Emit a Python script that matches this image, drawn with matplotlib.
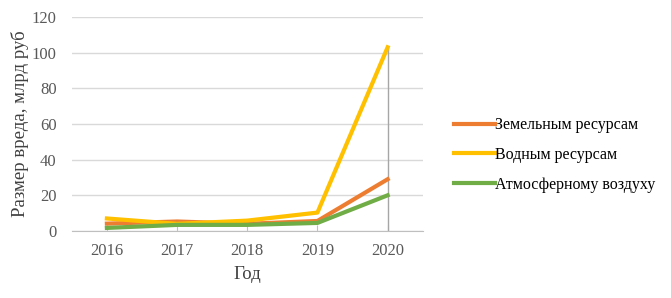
import matplotlib
matplotlib.use('Agg')
from matplotlib import pyplot as plt
import matplotlib as mpl

mpl.rcParams['font.family'] = ['Liberation Serif', 'DejaVu Serif']

# данные
years = ['2016', '2017', '2018', '2019', '2020']
zemel = [4.1, 5.3, 4.0, 5.6, 29]
vodn = [7.0, 4.0, 5.8, 10.3, 103]
atmos = [1.7, 3.4, 3.4, 4.5, 20]
names = ['Земельным ресурсам', 'Водным ресурсам', 'Атмосферному воздуху']
colors = ['#ED7D31', '#FFC000', '#70AD47']

fig = plt.figure(figsize=(6.71, 2.98), dpi=100)
ax = fig.add_axes([0.107, 0.225, 0.523, 0.718])

x = list(range(len(years)))
for vals, name, c in zip([zemel, vodn, atmos], names, colors):
    ax.plot(x, vals, color=c, lw=3.0, label=name)

# вертикальная линия на 2020
ax.vlines(x[-1], 0, max(vodn), color='#A6A6A6', lw=1, zorder=1)

ax.set_xlim(-0.5, len(years) - 0.5)
ax.set_ylim(0, 120)
ax.set_yticks(range(0, 121, 20))
ax.set_xticks(x)
ax.set_xticklabels(years)
ax.yaxis.grid(True, color='#D9D9D9', lw=1)
ax.set_axisbelow(True)
for s in ['top', 'right', 'left']:
    ax.spines[s].set_visible(False)
ax.spines['bottom'].set_color('#BFBFBF')
ax.tick_params(axis='y', length=0, labelsize=12, colors='#595959', pad=11)
ax.tick_params(axis='x', direction='in', length=4, color='#BFBFBF', labelsize=12, colors='#595959', pad=9)

ax.set_xlabel('Год', fontsize=13.5, color='#404040', labelpad=5)
ax.set_ylabel('Размер вреда, млрд руб', fontsize=13.5, color='#404040', labelpad=2)

fig.legend(loc='center left', bbox_to_anchor=(0.655, 0.48), frameon=False,
           fontsize=11.5, handlelength=2.6, handletextpad=0.0, labelspacing=0.85)

plt.savefig('out.png', dpi=100)
